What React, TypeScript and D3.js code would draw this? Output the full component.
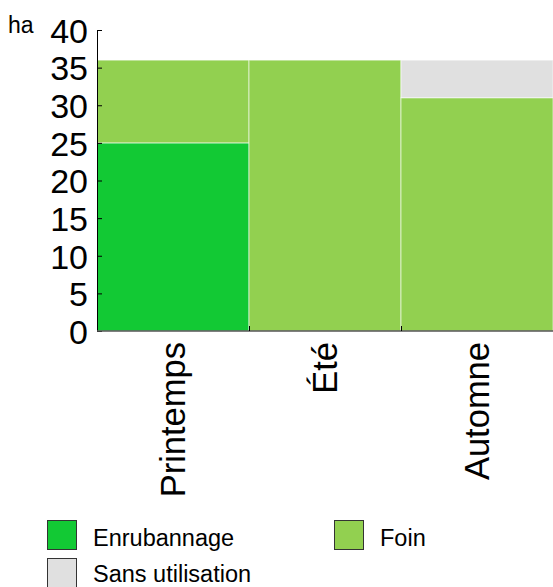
import React, { useEffect, useRef } from 'react';
import * as d3 from 'd3';

const seasons = ['Printemps', 'Été', 'Automne'];
const enrubannage = [25, 0, 0];
const foin = [11, 36, 31];
const sansUtilisation = [0, 0, 5];
const yTicks = [0, 5, 10, 15, 20, 25, 30, 35, 40];

const seriesInfo = [
  { key: 'enrubannage', label: 'Enrubannage', color: '#12c934' },
  { key: 'foin', label: 'Foin', color: '#92d050' },
  { key: 'sans', label: 'Sans utilisation', color: '#e0e0e0' },
];

const FONT = '"Liberation Sans", Arial, sans-serif';

function App() {
  const svgRef = useRef<SVGSVGElement | null>(null);

  useEffect(() => {
    const width = 553;
    const height = 587;
    const plot = { left: 97, right: 553, top: 30, bottom: 331 };

    const svg = d3.select(svgRef.current);
    svg.selectAll('*').remove();
    svg.attr('width', width).attr('height', height);

    // table built from the arrays above
    const rows = seasons.map((s, i) => ({
      season: s,
      enrubannage: enrubannage[i],
      foin: foin[i],
      sans: sansUtilisation[i],
    }));

    const x = d3
      .scaleBand()
      .domain(seasons)
      .range([plot.left, plot.right])
      .padding(0);

    const y = d3.scaleLinear().domain([0, 40]).range([plot.bottom, plot.top]);

    const stack = d3.stack<any>().keys(seriesInfo.map((d) => d.key));
    const layers = stack(rows);

    // stacked bars
    svg
      .append('g')
      .selectAll('g')
      .data(layers)
      .enter()
      .append('g')
      .style('fill', (d, i) => seriesInfo[i].color)
      .selectAll('rect')
      .data((d) => d.filter((v) => v[1] - v[0] > 0))
      .enter()
      .append('rect')
      .attr('x', (d) => x(d.data.season) as number)
      .attr('y', (d) => y(d[1]))
      .attr('width', x.bandwidth())
      .attr('height', (d) => y(d[0]) - y(d[1]))
      .style('stroke', '#ffffff')
      .style('stroke-opacity', 0.6)
      .style('stroke-width', 1);

    // y axis, ticks pointing inward
    const yAxis = svg
      .append('g')
      .attr('transform', `translate(${plot.left},0)`)
      .call(
        d3
          .axisLeft(y)
          .tickValues(yTicks)
          .tickSize(-5)
          .tickSizeOuter(0)
          .tickPadding(9),
      );
    yAxis.select('.domain').attr('stroke', '#000').attr('stroke-width', 1);
    yAxis.selectAll('.tick line').attr('stroke', '#000');
    yAxis
      .selectAll('text')
      .style('font-family', FONT)
      .style('font-size', '34px')
      .style('fill', '#000')
      .attr('dy', '0.36em');

    // x axis line
    svg
      .append('line')
      .attr('x1', plot.left)
      .attr('x2', plot.right)
      .attr('y1', plot.bottom)
      .attr('y2', plot.bottom)
      .attr('stroke', '#555')
      .attr('stroke-width', 1.5);

    // x ticks at band boundaries
    svg
      .append('g')
      .selectAll('line')
      .data(seasons.slice(1))
      .enter()
      .append('line')
      .attr('x1', (d) => (x(d) as number) + 0.5)
      .attr('x2', (d) => (x(d) as number) + 0.5)
      .attr('y1', plot.bottom)
      .attr('y2', plot.bottom - 5)
      .attr('stroke', '#000');

    // category labels, rotated
    svg
      .append('g')
      .selectAll('text')
      .data(seasons)
      .enter()
      .append('text')
      .attr(
        'transform',
        (d) =>
          `translate(${(x(d) as number) + x.bandwidth() / 2 + 12}, 342) rotate(-90)`,
      )
      .style('text-anchor', 'end')
      .style('font-family', FONT)
      .style('font-size', '34.5px')
      .style('fill', '#000')
      .text((d) => d);

    // unit label
    svg
      .append('text')
      .attr('x', 8)
      .attr('y', 33)
      .style('font-family', FONT)
      .style('font-size', '23px')
      .style('fill', '#000')
      .text('ha');

    // legend
    const legendPos = [
      { x: 47, y: 520 },
      { x: 334, y: 520 },
      { x: 47, y: 558 },
    ];
    const legend = svg
      .append('g')
      .selectAll('g')
      .data(seriesInfo)
      .enter()
      .append('g')
      .attr('transform', (d, i) => `translate(${legendPos[i].x},${legendPos[i].y})`);

    legend
      .append('rect')
      .attr('x', 0.5)
      .attr('y', 0.5)
      .attr('width', 29)
      .attr('height', 29)
      .style('fill', (d) => d.color)
      .style('stroke', '#333')
      .style('stroke-width', 1);

    legend
      .append('text')
      .attr('x', 46)
      .attr('y', (d, i) => (i === 2 ? 24 : 26))
      .style('font-family', FONT)
      .style('font-size', '23.5px')
      .style('fill', '#000')
      .text((d) => d.label);
  }, []);

  return (
    <svg
      ref={svgRef}
      style={{ position: 'absolute', left: 0, top: 0, display: 'block' }}
    />
  );
}

export default App;
